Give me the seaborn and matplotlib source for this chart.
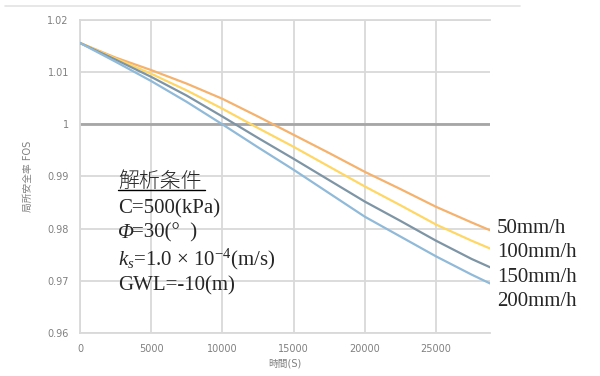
import numpy as np
import pandas as pd
import matplotlib
matplotlib.use("Agg")
import matplotlib.pyplot as plt
from matplotlib.ticker import FuncFormatter, MultipleLocator
from matplotlib.lines import Line2D
from matplotlib.transforms import offset_copy
import seaborn as sns

# safety factor vs elapsed time for four rainfall intensities

time_s = [0, 2500, 5000, 7500, 10000, 12500, 15000, 17500, 20000, 22500, 25000, 27500, 28800]
fos_50 = [1.0156, 1.0128, 1.0104, 1.0078, 1.0049, 1.0015, 0.9980, 0.9945, 0.9909, 0.9876, 0.9842, 0.9812, 0.9797]
fos_100 = [1.0156, 1.0126, 1.0097, 1.0065, 1.0030, 0.9993, 0.9957, 0.9919, 0.9881, 0.9845, 0.9808, 0.9777, 0.9762]
fos_150 = [1.0156, 1.0124, 1.0091, 1.0055, 1.0015, 0.9974, 0.9934, 0.9893, 0.9852, 0.9815, 0.9777, 0.9742, 0.9726]
fos_200 = [1.0156, 1.0120, 1.0083, 1.0043, 1.0000, 0.9956, 0.9913, 0.9868, 0.9823, 0.9785, 0.9747, 0.9712, 0.9695]
series_names = ["50mm/h", "100mm/h", "150mm/h", "200mm/h"]
colors = ["#f5b26e", "#ffd766", "#7e95a5", "#90bad8"]
x_ticks = [0, 5000, 10000, 15000, 20000, 25000]

df = pd.concat([
    pd.DataFrame({"time": time_s, "fos": vals, "case": name})
    for name, vals in zip(series_names, [fos_50, fos_100, fos_150, fos_200])
])

sns.set_style("white")
plt.rcParams["font.family"] = ["DejaVu Sans", "Noto Sans CJK JP"]
plt.rcParams["mathtext.fontset"] = "custom"
plt.rcParams["mathtext.rm"] = "Liberation Serif"
plt.rcParams["mathtext.it"] = "Liberation Serif:italic"

fig = plt.figure(figsize=(6, 3.76), dpi=100)
ax = fig.add_axes([0.1333, 0.1144, 0.6834, 0.8324])

ax.axhline(1.0, color="#a6a6a6", lw=2, zorder=1)
sns.lineplot(data=df, x="time", y="fos", hue="case", palette=dict(zip(series_names, colors)),
             lw=1.6, legend=False, ax=ax, zorder=3)

ax.set_xlim(0, 28800)
ax.set_ylim(0.96, 1.02)
ax.set_xticks(x_ticks)
ax.yaxis.set_major_locator(MultipleLocator(0.01))
ax.yaxis.set_major_formatter(FuncFormatter(lambda v, p: "%g" % round(v, 2)))
ax.grid(True, color="#d9d9d9", lw=1.3)
ax.set_axisbelow(True)
ax.spines["right"].set_visible(False)
for side in ["left", "bottom", "top"]:
    ax.spines[side].set_color("#d9d9d9")
    ax.spines[side].set_linewidth(1.3)
ax.tick_params(length=0, labelsize=7, labelcolor="#808080", pad=8)
ax.set_xlabel("時間(S)", fontsize=7, color="#808080", labelpad=3)
ax.set_ylabel("局所安全率 FOS", fontsize=7, color="#808080", labelpad=10)

# condition text box
serif = ["Liberation Serif", "Noto Sans CJK JP"]
tx = 0.0927
ax.text(tx, 0.466, "解析条件", transform=ax.transAxes, fontsize=15, family=["Noto Sans CJK JP"],
        va="baseline", fontweight="light")
ax.plot([tx, 0.305], [0.458, 0.458], transform=ax.transAxes, color="black", lw=1)
ax.text(tx, 0.383, "C=500(kPa)", transform=ax.transAxes, fontsize=15, family=serif, va="baseline")
phi = ax.text(tx, 0.304, "Φ", transform=ax.transAxes, fontsize=15, family=serif,
              style="italic", va="baseline")
fig.canvas.draw()
phi_w = phi.get_window_extent().width * 72 / fig.dpi
ax.text(tx, 0.304, "=30(°  )", fontsize=15, family=serif, va="baseline",
        transform=offset_copy(ax.transAxes, fig=fig, x=phi_w - 1, y=0, units="points"))
ax.text(tx, 0.217, r"$k_s$=1.0 × 10$^{-4}$(m/s)", transform=ax.transAxes, fontsize=15, family=serif, va="baseline")
ax.text(tx, 0.137, "GWL=-10(m)", transform=ax.transAxes, fontsize=15, family=serif, va="baseline")

# series labels at the right end
for name, yy in zip(series_names, [0.3195, 0.2428, 0.163, 0.0863]):
    ax.text(1.017, yy, name, transform=ax.transAxes, fontsize=15, family=serif, va="baseline")

fig.add_artist(Line2D([0.008, 0.867], [0.984, 0.984], color="#e3e3e3", lw=1.2))

plt.savefig("out.png", dpi=100)
